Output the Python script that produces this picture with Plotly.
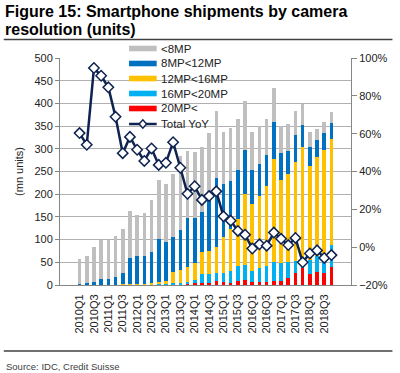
import plotly.graph_objects as go

quarters = ["2010Q1", "2010Q2", "2010Q3", "2010Q4", "2011Q1", "2011Q2", "2011Q3", "2011Q4",
            "2012Q1", "2012Q2", "2012Q3", "2012Q4", "2013Q1", "2013Q2", "2013Q3", "2013Q4",
            "2014Q1", "2014Q2", "2014Q3", "2014Q4", "2015Q1", "2015Q2", "2015Q3", "2015Q4",
            "2016Q1", "2016Q2", "2016Q3", "2016Q4", "2017Q1", "2017Q2", "2017Q3", "2017Q4",
            "2018Q1", "2018Q2", "2018Q3", "2018Q4"]
tick_labels = ["2010Q1", "2010Q3", "2011Q1", "2011Q3", "2012Q1", "2012Q3", "2013Q1", "2013Q3",
               "2014Q1", "2014Q3", "2015Q1", "2015Q3", "2016Q1", "2016Q3", "2017Q1", "2017Q3",
               "2018Q1", "2018Q3"]

# mn units per resolution band
lt8 = [53, 59.5, 76, 86.5, 86, 91.4, 97, 103, 90, 95, 114.5, 130, 128, 139, 163, 147, 145, 143,
       145, 148, 115, 115, 112, 108, 82, 84, 79, 76, 59, 58, 53, 46, 32, 24, 25, 24]
mp8_12 = [3, 4.5, 6.5, 11.5, 12, 16.6, 25.5, 57, 62, 60, 69.5, 95.4, 85, 77, 89.5, 108, 100, 88,
          115, 153, 118, 107, 107, 96, 76, 69, 69, 80, 59, 51, 58, 49, 43, 39, 37, 35]
mp12_16 = [0, 0, 0.2, 0.5, 0.5, 0.5, 1, 1.5, 1, 2, 3, 3.6, 6, 25, 27.5, 33.4, 38, 48.4,
           51.4, 57, 79, 92, 104, 158, 147, 160, 176, 227, 183, 194, 219, 247, 207, 217, 229, 234]
mp16_20 = [0.3, 0.3, 0.3, 0.5, 0.5, 0.5, 0.5, 0.5, 1, 1, 1, 3, 3, 3.5, 3.5, 4, 6.5, 20,
           19.5, 17, 19.5, 26, 33, 33, 24.5, 29.5, 35.5, 42, 40, 36, 26, 19, 30, 35, 41, 48]
mp20 = [0, 0, 0, 0, 0, 0, 0, 0, 0, 0, 0, 0, 0, 0.5, 1.5, 2.5, 3.5, 3.5,
        4, 9, 6.5, 5, 9, 10, 6.5, 7.5, 6.5, 9, 9, 15, 27, 38, 25, 29, 27, 40]
total_yoy = [60.3, 54.1, 94.7, 90.6, 84.5, 68.9, 49.7, 58.3, 51.5, 45.6, 52.2, 43.5, 44.6, 55.5,
             42, 28.2, 32.2, 25, 27, 29.5, 16.3, 14, 8.6, 6.6, -0.7, 1.5, 0.8, 7.7, 4.4, 1.1,
             4.9, -8, -3.3, -1.7, -5.7, -4.2]

series_names = ["<8MP", "8MP<12MP", "12MP<16MP", "16MP<20MP", "20MP<"]
series_colors = ["#BFBFBF", "#0070C0", "#FFC000", "#00B0F0", "#FF0000"]
line_name = "Total YoY"
line_color = "#0F2350"

FONT = "Liberation Sans, Arial, sans-serif"
W, H = 400, 373
L, R, T, B = 60, 45, 58, 88
PW, PH = W - L - R, H - T - B


def px(x):
    return (x - L) / PW


def py(y):
    return (H - B - y) / PH


fig = go.Figure()
series_values = [lt8, mp8_12, mp12_16, mp16_20, mp20]
# stack from the bottom: 20MP< first
for name, vals, col in reversed(list(zip(series_names, series_values, series_colors))):
    fig.add_trace(go.Bar(x=quarters, y=vals, name=name, marker=dict(color=col, line=dict(width=0)),
                         showlegend=False))

fig.add_trace(go.Scatter(x=quarters, y=total_yoy, name=line_name, yaxis="y2", mode="lines+markers",
                         line=dict(color=line_color, width=2.5),
                         marker=dict(symbol="diamond", size=8, color="white",
                                     line=dict(color=line_color, width=1.5)),
                         showlegend=False))

shapes = []
annotations = []
# custom legend
rows = [48.5, 63.5, 78.5, 93.5, 108.5, 124]
sx0, sx1 = 130, 158
for i, (name, col) in enumerate(zip(series_names, series_colors)):
    cy = rows[i]
    shapes.append(dict(type="rect", xref="paper", yref="paper", x0=px(sx0), x1=px(sx1),
                       y0=py(cy + 2.8), y1=py(cy - 2.8), fillcolor=col, line=dict(width=0)))
    annotations.append(dict(text=name, xref="paper", yref="paper", x=px(160), y=py(cy),
                            xanchor="left", yanchor="middle", showarrow=False,
                            font=dict(family=FONT, size=11.5, color="#222")))
cy = rows[5]
shapes.append(dict(type="line", xref="paper", yref="paper", x0=px(sx0), x1=px(sx1),
                   y0=py(cy), y1=py(cy), line=dict(color=line_color, width=2.5)))
cx = (sx0 + sx1) / 2
dpath = "M {},{} L {},{} L {},{} L {},{} Z".format(px(cx - 3.8), py(cy), px(cx), py(cy - 4.2),
                                                  px(cx + 3.8), py(cy), px(cx), py(cy + 4.2))
shapes.append(dict(type="path", xref="paper", yref="paper", path=dpath, fillcolor="white",
                   line=dict(color=line_color, width=1.5)))
annotations.append(dict(text=line_name, xref="paper", yref="paper", x=px(160), y=py(cy),
                        xanchor="left", yanchor="middle", showarrow=False,
                        font=dict(family=FONT, size=11.5, color="#222")))

# title
annotations.append(dict(text="<b>Figure 15: Smartphone shipments by camera</b>", xref="paper",
                        yref="paper", x=px(2), y=py(1), xanchor="left", yanchor="top",
                        showarrow=False, font=dict(family=FONT, size=16, color="#000")))
annotations.append(dict(text="<b>resolution (units)</b>", xref="paper",
                        yref="paper", x=px(2), y=py(19), xanchor="left", yanchor="top",
                        showarrow=False, font=dict(family=FONT, size=16, color="#000")))
# rules
shapes.append(dict(type="line", xref="paper", yref="paper", x0=px(3), x1=px(397),
                   y0=py(39.5), y1=py(39.5), line=dict(color="#404040", width=1.3)))
shapes.append(dict(type="line", xref="paper", yref="paper", x0=px(3), x1=px(397),
                   y0=py(351), y1=py(351), line=dict(color="#404040", width=1.3)))
annotations.append(dict(text="Source: IDC, Credit Suisse", xref="paper", yref="paper",
                        x=px(3), y=py(366), xanchor="left", yanchor="middle", showarrow=False,
                        font=dict(family=FONT, size=9.5, color="#404040")))

fig.update_layout(
    width=W, height=H, margin=dict(l=L, r=R, t=T, b=B),
    paper_bgcolor="white", plot_bgcolor="white",
    barmode="stack", bargap=0.5,
    font=dict(family=FONT, size=11, color="#222"),
    showlegend=False,
    shapes=shapes, annotations=annotations,
    xaxis=dict(type="category", categoryorder="array", categoryarray=quarters,
               tickmode="array", tickvals=tick_labels, ticktext=tick_labels, tickangle=-90,
               showline=True, linecolor="#868686", linewidth=1, ticks="", showgrid=False,
               ticklabelstandoff=4, tickfont=dict(size=11)),
    yaxis=dict(range=[0, 500], dtick=50, showgrid=True, gridcolor="#B0B0B0", gridwidth=1,
               showline=True, linecolor="#868686", ticks="outside", ticklen=4,
               tickcolor="#868686", zeroline=False,
               title=dict(text="(mn units)", font=dict(size=11), standoff=8),
               tickfont=dict(size=11)),
    yaxis2=dict(range=[-20, 100], dtick=20, overlaying="y", side="right", showgrid=False,
                ticksuffix="%", showline=True, linecolor="#868686", ticks="outside", ticklen=5,
                tickcolor="#868686", zeroline=False, tickfont=dict(size=11)),
)

fig.write_html("out.html", config={"displayModeBar": False},
               post_script="document.body.style.margin='0px';")
